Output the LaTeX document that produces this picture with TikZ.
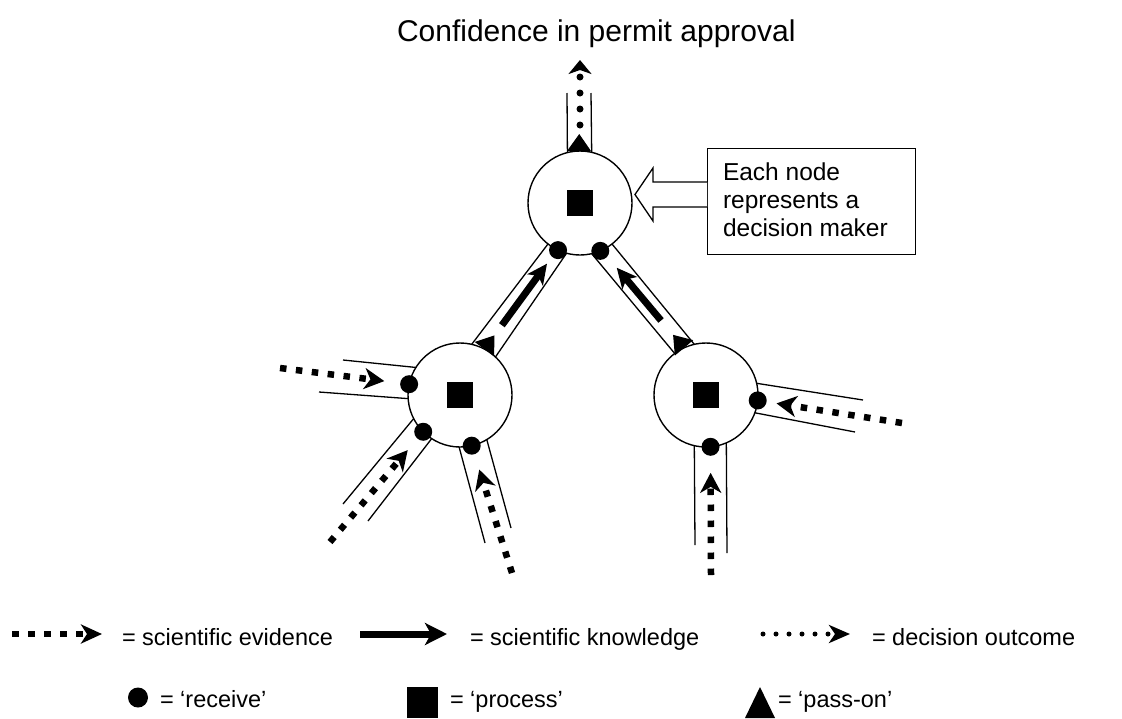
\documentclass[tikz,border=0pt]{standalone}
\usepackage{fontspec}
\setmainfont{Liberation Sans}
\usetikzlibrary{arrows.meta,calc}
\begin{document}
\begin{tikzpicture}[x=1pt,y=-1pt,
  dm/.style={circle,draw,line width=1.4pt,fill=white,minimum size=104pt,inner sep=0pt,outer sep=0pt},
  rcv/.style={circle,fill=black,minimum size=18pt,inner sep=0pt,outer sep=0pt},
  proc/.style={rectangle,fill=black,minimum size=26pt,inner sep=0pt},
  wall/.style={line width=1.3pt},
  evid/.style={line width=6.5pt,dash pattern=on 6.5pt off 9.5pt,-{Stealth[length=20pt,width=21pt,inset=6pt]}},
  know/.style={line width=7pt,-{Stealth[length=20pt,width=19pt,inset=5pt]}},
  outc/.style={line width=7pt,line cap=round,dash pattern=on 0pt off 16pt,-{Stealth[length=14pt,width=23pt,inset=4pt]}},
  titlefont/.style={font=\fontsize{30pt}{36pt}\selectfont},
  boxfont/.style={font=\fontsize{24.5pt}{28pt}\selectfont},
  legfont/.style={font=\fontsize{23.5pt}{28pt}\selectfont},
  txt/.style={inner sep=0pt,outer sep=0pt,anchor=base west},
]
\useasboundingbox (0,0) rectangle (1122,718);

% title
\node[txt,titlefont] (title) at (397,41) {Confidence in permit approval};

% decision makers
\node[dm] (T) at (580,203) {};
\node[dm] (L) at (460,395) {};
\node[dm] (R) at (706,395) {};

% channels between decision makers
\draw[wall] (L.77) -- (T.232.7);
\draw[wall] (L.47) -- (T.255.4);
\draw[wall] (R.127) -- (T.283);
\draw[wall] (R.103) -- (T.308);

% output channel of the top node
\coordinate (oA) at (567,93);
\coordinate (oB) at (591,93);
\coordinate (outT) at (580,60);
\draw[wall] (oA) -- (T.104.5);
\draw[wall] (oB) -- (T.77.8);

% evidence channels
\coordinate (wA) at (343,360);
\coordinate (wB) at (319,392);
\draw[wall] (wA) -- (L.148);
\draw[wall] (wB) -- (L.184);
\coordinate (swA) at (343,504);
\coordinate (swB) at (368,521);
\draw[wall] (swA) -- (L.207);
\draw[wall] (swB) -- (L.237);
\coordinate (sA) at (485,543);
\coordinate (sB) at (511,528);
\draw[wall] (sA) -- (L.269);
\draw[wall] (sB) -- (L.301);
\coordinate (eA) at (863,400);
\coordinate (eB) at (855,432);
\draw[wall] (eA) -- (R.13);
\draw[wall] (eB) -- (R.340);
\coordinate (rsA) at (695,545);
\coordinate (rsB) at (727,553);
\draw[wall] (rsA) -- (R.257);
\draw[wall] (rsB) -- (R.293);

% process squares
\node[proc] (pT) at (T.center) {};
\node[proc] (pL) at (L.center) {};
\node[proc] (pR) at (R.center) {};

% receive dots
\node[rcv] (dT1) at (T.245) {};
\node[rcv] (dT2) at (T.293) {};
\node[rcv] (dLw) at (L.168) {};
\node[rcv] (dLsw) at (L.225) {};
\node[rcv] (dLs) at (L.283) {};
\node[rcv] (dRe) at (R.354.5) {};
\node[rcv] (dRs) at (R.275.5) {};

% pass-on triangles
\fill ($(L.62)!12pt!90:(T.244)$) -- ($(L.62)!17pt!(T.244)$) -- ($(L.62)!12pt!-90:(T.244)$) -- cycle;
\fill ($(R.115)!12pt!90:(T.295)$) -- ($(R.115)!17pt!(T.295)$) -- ($(R.115)!12pt!-90:(T.295)$) -- cycle;
\fill ($(T.91)!12pt!90:(outT)$) -- ($(T.91)!17pt!(outT)$) -- ($(T.91)!12pt!-90:(outT)$) -- cycle;

% scientific knowledge passed upwards
\draw[know] ($(L.62)!0.24!(T.244)$) -- ($(L.62)!0.86!(T.244)$);
\draw[know] ($(R.115)!0.28!(T.295)$) -- ($(R.115)!0.82!(T.295)$);

% decision outcome
\draw[outc,shorten <=26pt] (T) -- (outT);

% scientific evidence arriving
\coordinate (inLw) at (280,368);
\coordinate (inLsw) at (330,542);
\coordinate (inLs) at (512,573);
\coordinate (inRe) at (902,423);
\coordinate (inRs) at (711,575);
\draw[evid,shorten >=16pt] (inLw) -- (dLw);
\draw[evid,shorten >=15pt] (inLsw) -- (dLsw);
\draw[evid,shorten >=16pt] (inLs) -- (dLs);
\draw[evid,shorten >=10pt] (inRe) -- (dRe);
\draw[evid,shorten >=17pt] (inRs) -- (dRs);

% annotation box with hollow pointer
\node[draw,wall,anchor=north west,minimum width=208pt,minimum height=106pt,inner sep=0pt] (box) at (707,148) {};
\node[txt,boxfont] (bx1) at (723,180.5) {Each node};
\node[txt,boxfont] (bx2) at (723,208.5) {represents a};
\node[txt,boxfont] (bx3) at (723,236.5) {decision maker};
\draw[wall,fill=white] (707,182) -- (653,182) -- (653,168) -- (635,194.5) -- (653,221) -- (653,207) -- (707,207);

% legend, first row
\coordinate (lgE1) at (12,634);
\coordinate (lgE2) at (102,634);
\draw[evid,-{Stealth[length=21pt,width=19pt,inset=6pt]}] (lgE1) -- (lgE2);
\node[txt,legfont] (lgEt) at (122,645) {= scientific evidence};
\coordinate (lgK1) at (360,634);
\coordinate (lgK2) at (447,634);
\draw[know,-{Stealth[length=22pt,width=22pt,inset=6pt]}] (lgK1) -- (lgK2);
\node[txt,legfont] (lgKt) at (470,645) {= scientific knowledge};
\coordinate (lgD1) at (763,634);
\coordinate (lgD2) at (850,634);
\draw[line width=5pt,line cap=round,dash pattern=on 0pt off 13pt,-{Stealth[length=21pt,width=18pt,inset=6pt]}] (lgD1) -- (lgD2);
\node[txt,legfont] (lgDt) at (872,645) {= decision outcome};

% legend, second row
\fill (138,697.5) circle (10pt);
\node[txt,legfont] (lgRt) at (160,707) {= ‘receive’};
\fill (407,687) rectangle (438,718);
\node[txt,legfont] (lgPt) at (450,707) {= ‘process’};
\fill (745,718) -- (775,718) -- (760,687) -- cycle;
\node[txt,legfont] (lgSt) at (778,707) {= ‘pass-on’};
\end{tikzpicture}
\end{document}
